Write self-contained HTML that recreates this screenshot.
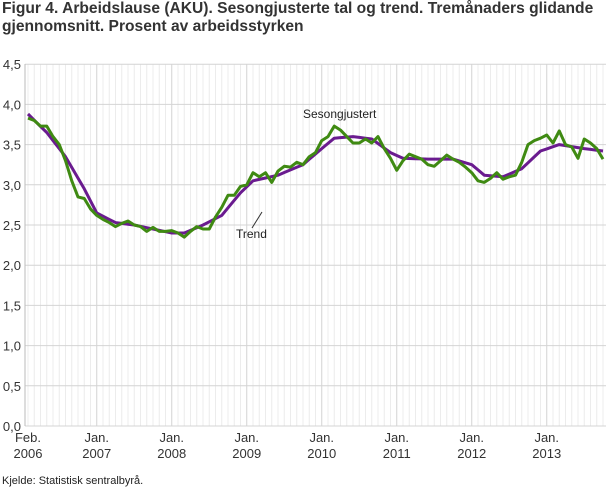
<!DOCTYPE html>
<html><head><meta charset="utf-8"><style>
body{margin:0;background:#fff;width:610px;height:488px;overflow:hidden;font-family:"Liberation Sans",sans-serif}
.t{position:absolute;left:2px;top:0px;font-size:15.6px;font-weight:bold;color:#333;line-height:18px;white-space:nowrap}
</style></head><body>
<div class="t">Figur 4. Arbeidslause (AKU). Sesongjusterte tal og trend. Tremånaders glidande<br>gjennomsnitt. Prosent av arbeidsstyrken</div>
<svg id="s" width="610" height="488" style="position:absolute;left:0;top:0" font-family="Liberation Sans, sans-serif"></svg>
<script>
var s=document.getElementById('s'),h='';
function X(i){return 28+6.25*i}function Y(v){return 426-v*80.4}
for(var i=0;i<=92;i++){var x=X(i);var yr=(i-11)%12==0;h+='<line x1="'+x+'" y1="64" x2="'+x+'" y2="426" stroke="'+(yr?'#d4d4d4':'#ececec')+'" stroke-width="1"/>';}
for(var k=0;k<=9;k++){var v=k*0.5,y=Y(v);h+='<line x1="25" y1="'+y+'" x2="606" y2="'+y+'" stroke="#d4d4d4"/>';h+='<text x="21" y="'+(y+5)+'" font-size="13" text-anchor="end" fill="#333">'+v.toFixed(1).replace('.',',')+'</text>';}
h+='<line x1="25" y1="64" x2="25" y2="426" stroke="#bbb"/>';
var lab=[[0,'Feb.','2006'],[11,'Jan.','2007'],[23,'Jan.','2008'],[35,'Jan.','2009'],[47,'Jan.','2010'],[59,'Jan.','2011'],[71,'Jan.','2012'],[83,'Jan.','2013']];
lab.forEach(function(l){var x=X(l[0]);h+='<text x="'+x+'" y="442" font-size="13" text-anchor="middle" fill="#333">'+l[1]+'</text><text x="'+x+'" y="458" font-size="13" text-anchor="middle" fill="#333">'+l[2]+'</text>';});
var g=[3.83,3.80,3.73,3.73,3.60,3.50,3.30,3.05,2.85,2.83,2.70,2.62,2.57,2.53,2.48,2.52,2.55,2.50,2.48,2.42,2.47,2.42,2.42,2.43,2.40,2.35,2.42,2.48,2.45,2.45,2.60,2.72,2.87,2.87,2.98,3.00,3.15,3.10,3.15,3.03,3.17,3.23,3.22,3.28,3.25,3.35,3.40,3.55,3.60,3.73,3.68,3.60,3.52,3.52,3.57,3.52,3.60,3.45,3.33,3.18,3.30,3.38,3.35,3.32,3.25,3.23,3.30,3.37,3.32,3.28,3.22,3.15,3.05,3.03,3.08,3.15,3.07,3.10,3.12,3.28,3.50,3.55,3.58,3.62,3.52,3.67,3.50,3.47,3.33,3.57,3.52,3.45,3.32];
var tk=[[0,3.88],[3,3.65],[6,3.35],[9,2.95],[11,2.65],[14,2.53],[17,2.50],[20,2.45],[23,2.40],[25,2.40],[28,2.50],[31,2.62],[34,2.90],[36,3.05],[40,3.12],[44,3.25],[47,3.45],[49,3.58],[52,3.60],[55,3.57],[58,3.40],[60,3.33],[64,3.32],[68,3.32],[71,3.25],[73,3.12],[76,3.10],[79,3.20],[82,3.42],[85,3.50],[89,3.45],[92,3.42]];
var tp=[];for(var j=0;j<tk.length-1;j++){var a=tk[j],b=tk[j+1];for(var i=a[0];i<b[0];i++){tp.push(X(i)+','+Y(a[1]+(b[1]-a[1])*(i-a[0])/(b[0]-a[0])).toFixed(1));}}tp.push(X(92)+','+Y(3.42));
h+='<polyline points="'+tp.join(' ')+'" fill="none" stroke="#6a1b8f" stroke-width="3" stroke-linejoin="round"/>';
h+='<polyline points="'+g.map(function(v,i){return X(i)+','+Y(v).toFixed(1)}).join(' ')+'" fill="none" stroke="#3f8a12" stroke-width="3" stroke-linejoin="round"/>';
h+='<text x="303" y="118" font-size="12" fill="#222">Sesongjustert</text>';
h+='<line x1="252" y1="228" x2="262" y2="212" stroke="#333"/><text x="236" y="238" font-size="12" fill="#222">Trend</text>';
h+='<text x="2" y="484" font-size="11" fill="#222">Kjelde: Statistisk sentralbyrå.</text>';
s.innerHTML=h;
</script>
</body></html>
